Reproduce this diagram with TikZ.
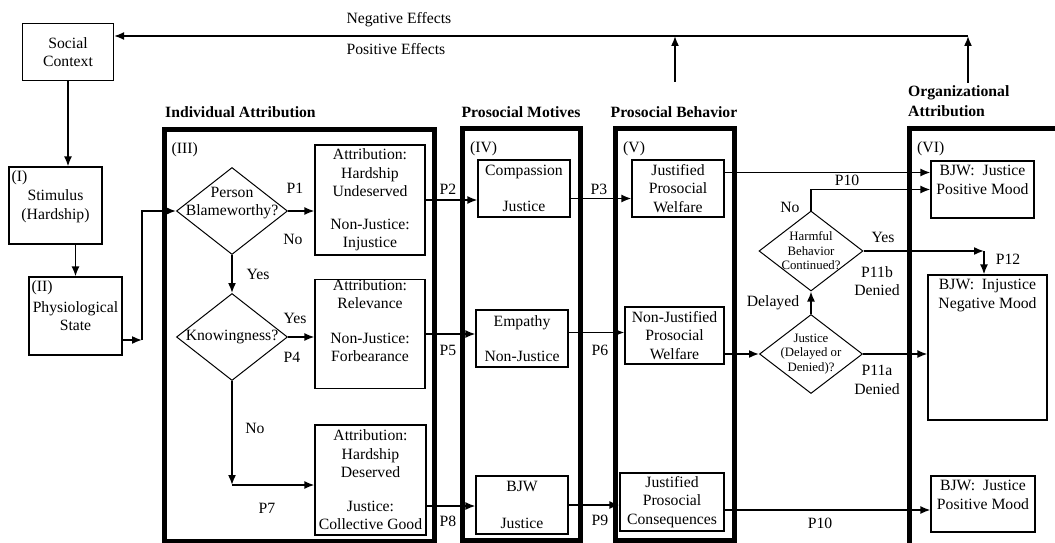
\documentclass[tikz,border=0pt]{standalone}
\usepackage{fontspec}
\setmainfont{Liberation Serif}
\usetikzlibrary{arrows.meta,shapes.geometric}

\tikzset{
    box/.style={draw, line width=1.2pt, align=center, inner sep=0pt},
    frame/.style={draw, line width=5pt, inner sep=0pt},
    decision/.style={draw, diamond, line width=1pt, inner sep=0pt},
    arr/.style={line width=1.6pt, -{Latex[length=10pt,width=8pt]}},
    heading/.style={font=\fontsize{15.7}{19.5}\selectfont\bfseries, inner sep=0pt},
    small/.style={font=\fontsize{12.8}{14.5}\selectfont},
    boxtag/.style={label={[anchor=north west, inner sep=0pt, xshift=3pt, yshift=-4pt]north west:#1}},
    frametag/.style={label={[anchor=north west, inner sep=0pt, xshift=10pt, yshift=-16pt]north west:#1}},
    toptext/.style={label={[anchor=north, align=center, inner sep=0pt, yshift=-5pt]north:{#1}}}
}

\begin{document}
\begin{tikzpicture}[x=1pt, y=-1pt, font=\fontsize{15.7}{18.5}\selectfont]
    \useasboundingbox (0,0) rectangle (1055,543);

    % Draw the section frames
    \node[frame, minimum width=270pt, minimum height=412pt, frametag=(III)] (indiv) at (299,335) {};
    \node[frame, minimum width=118pt, minimum height=412pt, frametag=(IV)] (motive) at (521.5,334) {};
    \node[frame, minimum width=118.5pt, minimum height=412pt, frametag=(V)] (behav) at (674.75,334) {};
    \node[frame, minimum width=170pt, minimum height=430pt, frametag=(VI)] (organ) at (994.5,343) {};

    % Label the sections
    \node[heading, anchor=west] (indivtitle) at (165,112) {Individual Attribution};
    \node[heading] (motivetitle) at (521,112) {Prosocial Motives};
    \node[heading] (behavtitle) at (674,112) {Prosocial Behavior};
    \node[heading, anchor=west, align=left] (organtitle) at (908,101) {Organizational\\Attribution};

    % Draw the sources
    \node[box, minimum width=91pt, minimum height=57pt] (social) at (68,52) {Social\\Context};
    \node[box, minimum width=93pt, minimum height=77pt, boxtag=(I)] (stim) at (55.5,205.5) {\\[-6pt]Stimulus\\(Hardship)};
    \node[box, minimum width=93pt, minimum height=78pt, boxtag=(II)] (phys) at (75.5,316) {Physiological\\State};

    % Draw the individual attribution
    \node[decision, minimum width=111pt, minimum height=87pt,
          label={[align=center, yshift=8pt]center:Person\\Blameworthy?}] (blame) at (232,211) {};
    \node[decision, minimum width=111pt, minimum height=87pt,
          label={center:Knowingness?}] (know) at (232,337) {};
    \node[box, minimum width=110pt, minimum height=110pt] (undeserved) at (370,200)
        {Attribution:\\Hardship\\Undeserved\\[14pt]Non-Justice:\\Injustice};
    \node[box, minimum width=110pt, minimum height=108pt] (relevance) at (370,334)
        {Attribution:\\Relevance\\[16pt]Non-Justice:\\Forbearance\\[8pt]};
    \node[box, minimum width=111pt, minimum height=110pt] (deserved) at (370.5,480)
        {Attribution:\\Hardship\\Deserved\\[15pt]Justice:\\Collective Good};

    % Draw the motives
    \node[box, minimum width=92pt, minimum height=57pt] (compassion) at (524,188.5) {Compassion\\[17pt]Justice};
    \node[box, minimum width=92pt, minimum height=57pt] (empathy) at (522,338.5) {Empathy\\[17pt]Non-Justice};
    \node[box, minimum width=92pt, minimum height=58pt] (bjw) at (522,505) {BJW\\[18pt]Justice};

    % Draw the behaviors
    \node[box, minimum width=92pt, minimum height=57pt] (jwelfare) at (678,188.5) {Justified\\Prosocial\\Welfare};
    \node[box, minimum width=99pt, minimum height=57pt] (njwelfare) at (674.5,335.5) {Non-Justified\\Prosocial\\Welfare};
    \node[box, minimum width=104pt, minimum height=58pt] (jconseq) at (672,502) {Justified\\Prosocial\\Consequences};

    % Draw the organizational attribution
    \node[decision, minimum width=104pt, minimum height=80pt,
          label={[small, align=center]center:Harmful\\Behavior\\Continued?}] (harmful) at (811,251) {};
    \node[decision, minimum width=103pt, minimum height=79pt,
          label={[small, align=center]center:Justice\\(Delayed or\\Denied)?}] (justice) at (811,354) {};
    \node[box, minimum width=103pt, minimum height=57pt, toptext={BJW:\ \ Justice\\Positive Mood}] (posmood) at (982.5,189.5) {};
    \node[box, minimum width=119pt, minimum height=145pt, toptext={BJW:\ \ Injustice\\Negative Mood}] (negmood) at (987.5,347.5) {};
    \node[box, minimum width=104pt, minimum height=56pt, toptext={BJW:\ \ Justice\\Positive Mood}] (posmoodb) at (983,504) {};

    % Draw the feedback loop
    \coordinate (organbase) at (968,83);
    \coordinate (organtop) at (968,36);
    \coordinate (behavbase) at (675,82);
    \draw[arr] (organbase) -- (organtop);
    \draw[arr] (behavbase) -- (behavbase |- organtop);
    \draw[arr] (organtop) -- (organtop -| social.east);
    \node[anchor=west] (negeff) at (343,20) {Negative Effects};
    \node[anchor=west] (poseff) at (343,49) {Positive Effects};

    % Draw the connectors
    \coordinate (physturn) at (142,340);
    \coordinate (noturn) at (232,485);
    \coordinate (yesturn) at (984,251);
    \draw[arr] (social.south) -- (social.south |- stim.north);
    \draw[arr] (phys.north |- stim.south) -- (phys.north);
    \draw[arr] (phys.east |- physturn) -- (physturn);
    \draw[arr] (physturn) |- (blame.west);
    \draw[arr] (blame.south) -- (know.north);
    \draw[arr] (blame.east) -- (blame.east -| undeserved.west);
    \draw[arr] (know.east) -- (know.east -| relevance.west);
    \draw[arr] (know.south) -- (noturn);
    \draw[arr] (noturn) -- (noturn -| deserved.west);
    \draw[arr] (undeserved.east) -- (undeserved.east -| compassion.west);
    \draw[arr] (relevance.east) -- (relevance.east -| empathy.west);
    \draw[arr] ([yshift=-26pt]deserved.east) -- ([yshift=-26pt]deserved.east -| bjw.west);
    \draw[arr] ([yshift=-10pt]compassion.east) -- ([yshift=-10pt]compassion.east -| jwelfare.west);
    \draw[arr] ([yshift=6pt]empathy.east) -- ([yshift=6pt]empathy.east -| njwelfare.west);
    \draw[arr] (bjw.east) -- (bjw.east -| jconseq.west);
    \draw[arr] ([yshift=16pt]jwelfare.east) -- ([yshift=16pt]jwelfare.east -| posmood.west);
    \draw[arr] (harmful.north) |- (posmood.west);
    \draw[arr] (harmful.east) -- (yesturn);
    \draw[arr] (yesturn) -- (yesturn |- negmood.north);
    \draw[arr] (njwelfare.east |- justice.west) -- (justice.west);
    \draw[arr] (justice.north) -- (harmful.south);
    \draw[arr] (justice.east) -- (justice.east -| negmood.west);
    \draw[arr] ([yshift=-8pt]jconseq.east) -- ([yshift=-8pt]jconseq.east -| posmoodb.west);

    % Label the connectors
    \foreach \name/\pos/\txt in {p1/{295,188}/P1, no1/{293,239}/No, yes1/{258,274}/Yes,
            yes2/{295,318}/Yes, p4/{292,357}/P4, no2/{255,428}/No, p7/{267,508}/P7,
            p2/{448,189}/P2, p5/{448,350}/P5, p8/{448,521}/P8,
            p3/{599,189}/P3, p6/{600,350}/P6, p9/{600,520}/P9,
            p10/{847,180}/P10, no3/{790,207}/No, yes3/{883,237}/Yes, p12/{1008,259}/P12,
            delayed/{773,303}/Delayed, p10b/{820,523}/P10,
            p11b/{877,281}/{P11b\\Denied}, p11a/{877,380}/{P11a\\Denied}}
        \node[align=center] (\name) at (\pos) {\txt};

\end{tikzpicture}
\end{document}
